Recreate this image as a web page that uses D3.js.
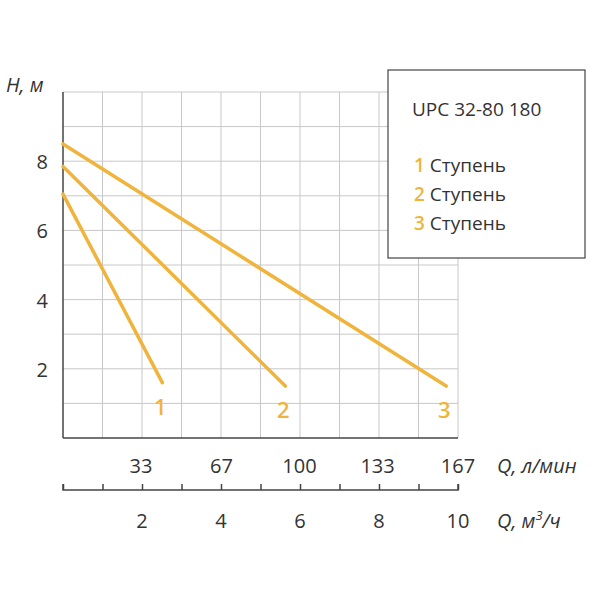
<!DOCTYPE html>
<html>
<head>
<meta charset="utf-8">
<script src="https://cdn.jsdelivr.net/npm/d3@7"></script>
<style>
  body { margin: 0; background: #fff; }
  svg text { font-family: "Open Sans", sans-serif; fill: #333; }
</style>
</head>
<body>
<svg id="chart" width="600" height="600"></svg>
<script>
// data
const stages = ["1", "2", "3"];
const startH = [7.05, 7.85, 8.5];     // H at Q = 0, m
const endQ = [42, 94, 162];           // l/min at line end
const endH = [1.6, 1.5, 1.5];         // m at line end
const flowTicks = [33, 67, 100, 133, 167];
const cubeTicks = [2, 4, 6, 8, 10];
const headTicks = [2, 4, 6, 8];

let svg = d3.select('#chart');
let color = "#f0b43c";

let x = d3.scaleLinear().domain([0, 167]).range([63, 458]);
let xm = d3.scaleLinear().domain([0, 10]).range([63, 458]);
let y = d3.scaleLinear().domain([0, 10]).range([438, 92]);

// grid
svg.append("g").selectAll("line").data(d3.range(1, 11))
    .join("line")
    .attr("x1", d => xm(d)).attr("x2", d => xm(d))
    .attr("y1", y(0)).attr("y2", y(10))
    .attr("stroke", "#c8c8c8").attr("stroke-width", 1);
svg.append("g").selectAll("line").data(d3.range(1, 11))
    .join("line")
    .attr("x1", x(0)).attr("x2", x(167))
    .attr("y1", d => y(d)).attr("y2", d => y(d))
    .attr("stroke", "#c8c8c8").attr("stroke-width", 1);

// axes lines
svg.append("line").attr("x1", x(0)).attr("x2", x(0)).attr("y1", y(10)).attr("y2", y(0))
    .attr("stroke", "#444").attr("stroke-width", 1.5);
svg.append("line").attr("x1", x(0)).attr("x2", x(167)).attr("y1", y(0)).attr("y2", y(0))
    .attr("stroke", "#444").attr("stroke-width", 1.5);

svg.append("g").selectAll("text").data(headTicks).join("text")
    .attr("x", 48).attr("y", d => y(d) + 8)
    .attr("text-anchor", "end").attr("font-size", 20).text(d => d);

svg.append("g").selectAll("text").data(flowTicks).join("text")
    .attr("x", d => x(d)).attr("y", 473)
    .attr("text-anchor", "middle").attr("font-size", 20).text(d => d);

// second axis (m3/h)
let bottom = d3.axisBottom(xm).tickValues(d3.range(0, 11)).tickFormat("").tickSize(6);
svg.append("g").attr("transform", "translate(0,490)").call(bottom)
    .call(g => g.select(".domain").attr("stroke", "#444").attr("stroke-width", 1.5).attr("d", "M63,-6V0H458V-6"))
    .call(g => g.selectAll(".tick line").attr("stroke", "#444").attr("y2", -6).attr("stroke-width", 1.5));
svg.append("g").selectAll("text").data(cubeTicks).join("text")
    .attr("x", d => xm(d)).attr("y", 528)
    .attr("text-anchor", "middle").attr("font-size", 20).text(d => d);

// axis titles
svg.append("text").attr("x", 6).attr("y", 92).attr("font-size", 20).attr("font-style", "italic").text("H, м");
svg.append("text").attr("x", 497).attr("y", 473).attr("font-size", 20).attr("font-style", "italic").text("Q, л/мин");
let t = svg.append("text").attr("x", 497).attr("y", 528).attr("font-size", 20).attr("font-style", "italic");
t.append("tspan").text("Q, м");
t.append("tspan").attr("font-size", 13).attr("dy", -8).text("3");
t.append("tspan").attr("dy", 8).text("/ч");

// lines
stages.forEach((s, i) => {
    svg.append("line")
        .attr("x1", x(0)).attr("y1", y(startH[i]))
        .attr("x2", x(endQ[i])).attr("y2", y(endH[i]))
        .attr("stroke", color).attr("stroke-width", 3.5).attr("stroke-linecap", "round");
    svg.append("text")
        .attr("x", x(endQ[i]) - 2).attr("y", y(endH[i]) + 32)
        .attr("text-anchor", "middle").attr("font-size", 22).attr("font-weight", 600)
        .style("fill", color).text(s);
});

// legend
svg.append("rect").attr("x", 388).attr("y", 70).attr("width", 197).attr("height", 188)
    .attr("fill", "#fff").attr("stroke", "#444").attr("stroke-width", 1.2);
svg.append("text").attr("x", 412).attr("y", 116).attr("font-size", 19).text("UPC 32-80 180");
stages.forEach((s, i) => {
    let tt = svg.append("text").attr("x", 414).attr("y", 172 + i * 29).attr("font-size", 19);
    tt.append("tspan").style("fill", color).attr("font-weight", 600).text(s);
    tt.append("tspan").text(" Ступень");
});
</script>
</body>
</html>
